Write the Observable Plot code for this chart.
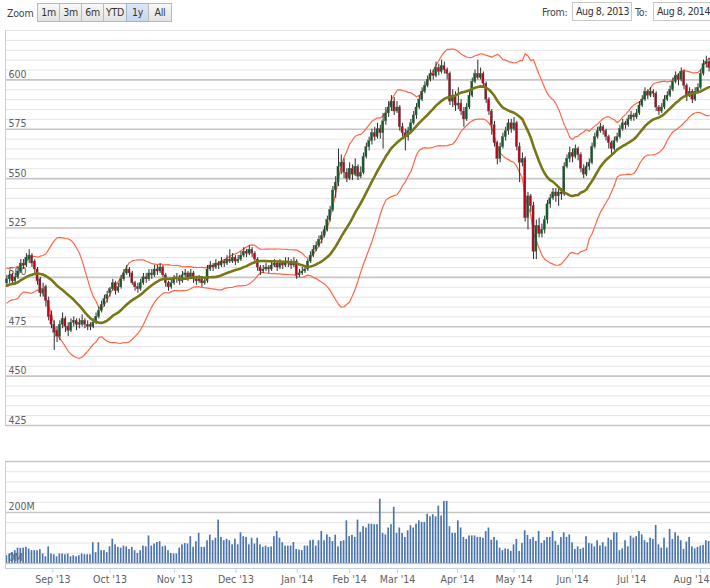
<!DOCTYPE html>
<html>
<head>
<meta charset="utf-8">
<script src="https://cdn.jsdelivr.net/npm/d3@7"></script>
<script src="https://cdn.jsdelivr.net/npm/@observablehq/plot@0.6"></script>
<style>
  html, body { margin: 0; padding: 0; background: #fff; }
  #wrap { position: relative; width: 710px; height: 588px; overflow: hidden;
    font-family: "DejaVu Sans Condensed", "Liberation Sans", sans-serif; }
  #price, #vol { position: absolute; left: 0; }
  #price { top: 0; }
  #vol { top: 440px; }
  .lbl { position: absolute; font-size: 10.5px; color: #444; line-height: 13px; letter-spacing: -0.2px; }
  .btn { position: absolute; top: 3px; height: 19px; line-height: 17px; font-size: 10.5px; color: #333;
    text-align: center; box-sizing: border-box; border: 1px solid #b9b9b9; letter-spacing: -0.3px;
    background: linear-gradient(#f8f8f8, #e2e2e2); }
  .btn.sel { background: linear-gradient(#dce7f5, #c7d7ee); border-color: #9fb3cf; }
  .box { position: absolute; top: 2px; height: 19px; line-height: 17px; font-size: 10.5px; color: #333;
    box-sizing: border-box; border: 1px solid #c8c8c8; padding-left: 3px; background: #fff; white-space: nowrap;
    letter-spacing: -0.4px; overflow: hidden; }
</style>
</head>
<body>
<div id="wrap">
  <div id="price"></div>
  <div id="vol"></div>
  <div class="lbl" style="left:7px;top:7px">Zoom</div>
  <div class="btn" style="left:37px;width:23px">1m</div>
  <div class="btn" style="left:59px;width:23px">3m</div>
  <div class="btn" style="left:81px;width:23px">6m</div>
  <div class="btn" style="left:103px;width:24px">YTD</div>
  <div class="btn sel" style="left:126px;width:23px">1y</div>
  <div class="btn" style="left:148px;width:24px">All</div>
  <div class="lbl" style="left:542px;top:6px">From:</div>
  <div class="box" style="left:572px;width:60px">Aug 8, 2013</div>
  <div class="lbl" style="left:635px;top:6px">To:</div>
  <div class="box" style="left:653px;width:60px">Aug 8, 2014</div>
</div>
<script>
// ---- Data: daily candles [open, high, low, close], one array per month ----
const aug13 = [[497,501,495,499],[499,503,497,501],[501,502,496,498],[498,502,496,500],[500,505,499,503],[503,509,502,507],[507,509,504,506],[506,512,505,510],[509,514,507,511],[511,512,505,507],[508,509,502,504],[504,505,496,498],[499,500,490,492],[492,497,490,494],[495,496,485,488],[488,490,478,480],[481,483,474,476]];
const sep13 = [[476,478,463,472],[473,475,467,470],[470,478,468,476],[476,482,474,479],[479,480,472,475],[475,477,470,473],[473,479,472,477],[477,480,475,478],[478,479,473,476],[476,479,474,477],[476,481,475,478],[478,479,474,476],[476,478,473,475],[476,477,473,475],[475,479,474,477],[477,482,476,480],[480,485,479,483],[483,488,482,486],[486,491,485,489],[489,493,487,491]];
const oct13 = [[492,495,490,494],[494,499,493,497],[497,498,491,493],[493,497,492,495],[495,501,494,499],[499,504,498,502],[502,506,501,504],[504,505,500,502],[502,503,496,497],[497,498,493,495],[495,497,492,494],[494,499,493,497],[497,502,496,500],[500,502,497,499],[499,504,498,502],[502,504,499,501],[501,506,500,504],[504,506,501,503],[503,507,502,505],[505,506,500,501],[501,502,495,497],[497,498,493,495],[495,499,494,497]];
const nov13 = [[497,501,496,499],[499,502,497,500],[500,501,496,498],[498,503,497,501],[501,504,500,502],[502,503,498,500],[500,504,499,502],[502,503,497,499],[499,500,496,498],[498,501,497,499],[499,500,495,497],[497,500,496,498],[498,506,497,504],[504,508,503,506],[506,507,503,505],[505,509,504,507],[507,508,504,506],[506,510,505,508],[508,509,505,507],[507,511,506,509]];
const dec13 = [[509,514,507,508],[508,512,507,510],[510,511,506,508],[508,511,507,509],[509,513,508,511],[511,515,510,513],[513,514,510,512],[512,516,511,514],[514,515,510,512],[512,513,507,509],[509,510,503,505],[505,506,501,503],[503,506,502,504],[504,507,503,505],[505,506,502,504],[504,508,503,506],[506,509,505,507],[507,508,503,505],[505,509,504,507],[507,508,504,506],[506,510,505,508]];
const jan14 = [[508,510,505,507],[507,509,504,506],[506,510,505,508],[508,509,499,501],[501,504,500,502],[502,505,501,503],[503,506,502,504],[504,509,503,508],[508,513,507,511],[511,516,510,514],[514,518,513,516],[516,521,515,519],[519,523,517,521],[521,526,520,524],[524,531,523,529],[529,536,528,534],[534,546,533,544],[544,551,540,548],[548,565,546,556],[556,562,552,558],[558,560,550,553]];
const feb14 = [[553,555,548,550],[550,558,549,555],[555,557,549,552],[552,560,551,556],[556,557,549,551],[551,556,550,553],[553,563,552,561],[561,568,560,566],[566,571,564,569],[569,575,567,573],[573,576,569,571],[571,578,570,575],[575,577,570,573],[573,583,565,579],[579,586,577,583],[583,589,581,586],[586,592,584,589],[589,591,582,584],[584,589,583,586]];
const mar14 = [[586,587,574,576],[576,578,571,573],[573,575,564,571],[571,576,569,574],[574,580,573,578],[578,584,577,582],[582,588,580,586],[586,592,585,590],[590,596,589,594],[594,599,593,597],[597,602,596,600],[600,605,599,603],[603,605,600,602],[602,609,601,606],[606,608,602,604],[604,610,603,607],[607,609,603,605],[605,606,600,603],[603,604,587,589],[589,595,586,592],[592,594,584,587]];
const apr14 = [[587,596,585,588],[588,590,582,584],[584,586,576,580],[580,588,579,586],[586,594,585,592],[592,601,591,599],[599,605,598,603],[603,610,600,601],[601,606,600,603],[603,604,596,598],[598,599,588,590],[590,591,582,584],[584,585,572,577],[577,579,566,568],[568,569,557,560],[560,568,558,566],[566,573,565,571],[571,576,569,574],[574,580,572,578],[578,580,573,575],[575,581,574,578]];
const may14 = [[578,579,564,566],[566,568,548,558],[558,563,556,560],[560,561,528,530],[530,543,524,541],[541,542,533,536],[536,538,509,513],[513,529,509,526],[526,530,520,522],[522,527,520,524],[524,531,522,529],[529,539,527,537],[537,542,535,540],[540,545,539,543],[543,545,538,541],[541,545,536,543],[543,545,539,542],[542,558,541,556],[556,562,555,560],[560,566,558,563],[563,565,558,561]];
const jun14 = [[561,567,560,565],[565,566,559,562],[562,563,553,555],[555,557,550,552],[552,558,551,556],[556,560,554,558],[558,568,557,566],[566,573,565,571],[571,576,570,574],[574,578,573,576],[576,577,572,574],[574,575,569,571],[571,572,565,568],[568,569,562,565],[565,571,564,569],[569,573,568,571],[571,577,570,575],[575,580,574,578],[578,579,575,577],[577,582,576,580],[580,584,579,582]];
const jul14 = [[582,583,579,581],[581,585,580,583],[583,589,582,587],[587,592,586,590],[590,596,589,594],[594,595,590,592],[592,596,591,594],[594,595,591,593],[593,594,584,586],[586,587,582,584],[584,588,583,586],[586,592,585,590],[590,594,589,592],[592,597,591,595],[595,601,594,599],[599,604,598,602],[602,603,597,600],[600,606,599,604],[604,605,595,597],[597,598,589,592],[592,596,591,594],[594,595,588,590]];
const aug14 = [[590,596,589,594],[594,598,593,596],[596,605,595,603],[603,610,602,608],[608,612,606,609],[609,611,604,606]];

// closes of the 19 sessions before the visible range (needed by the 20-day indicators)
const earlierCloses = [488,492,495,491,486,490,494,497,499,496,493,497,500,502,499,497,500,501,499];

// ---- Volume (millions), one array per month ----
const volAug13 = [30,37,43,50,60,59,60,63,56,50,50,50,54,37,26,65,37];
const volSep13 = [34,26,37,37,34,37,26,30,26,30,37,34,34,34,81,42,81,50,50,42];
const volOct13 = [65,95,73,63,60,68,65,55,63,50,39,50,68,65,108,68,76,82,85,65,68,50,39];
const volNov13 = [37,37,60,73,78,76,105,63,85,118,63,63,89,111,89,99,170,102,89,95];
const volDec13 = [89,73,95,73,120,105,102,73,99,76,99,73,63,68,63,65,105,125,99,81,68];
const volJan14 = [68,68,82,55,52,50,68,68,89,91,68,89,125,89,112,102,86,111,65,86,89];
const volFeb14 = [167,105,110,102,170,122,144,139,154,154,152,152,252,118,112,139,152,220,118];
const volMar14 = [139,118,102,128,148,139,154,167,161,161,193,183,191,183,225,186,243,243,144,118,118];
const volApr14 = [167,139,102,94,108,108,108,102,102,99,125,139,91,102,89,60,50,57,55,47,73];
const volMay14 = [94,47,78,128,110,94,102,86,125,78,89,102,102,125,86,71,102,120,102,112,81];
const volJun14 = [55,65,55,60,105,78,76,65,89,69,81,65,99,91,120,120,50,57,89,65,107];
const volJul14 = [99,105,125,112,89,81,99,94,149,73,60,99,60,133,94,120,107,89,55,84,102,65];
const volAug14 = [57,63,68,71,89,86];

// ---- Axis ticks: month starts, in session-index units, and their labels ----
const monthTicks = [16.5, 37, 60.2, 82.2, 104.2, 123, 140.2, 161.7, 182, 203, 224.2, 248.9];
const monthLabels = ["Sep '13","Oct '13","Nov '13","Dec '13","Jan '14","Feb '14","Mar '14","Apr '14","May '14","Jun '14","Jul '14","Aug '14"];
const priceMajor = [425,450,475,500,525,550,575,600];
const priceLabels = [425,450,475,500,525,550,575,600];
const volMajor = [0,200,400];
const volLabels = [0,200];

// ---- Build tables ----
const priceMonths = [aug13,sep13,oct13,nov13,dec13,jan14,feb14,mar14,apr14,may14,jun14,jul14,aug14];
const volMonths = [volAug13,volSep13,volOct13,volNov13,volDec13,volJan14,volFeb14,volMar14,volApr14,volMay14,volJun14,volJul14,volAug14];
const candles = priceMonths.flat().map((r, i) => ({i, o: r[0], h: r[1], l: r[2], c: r[3]}));
const volume = volMonths.flat().map((v, i) => ({i, v}));
const N = candles.length;
const lastK = monthTicks.length - 1;
// last label is kept inside the frame (end-anchored), the others are centred on their tick
const tickFmt = d => { const k = monthTicks.indexOf(d); return k === lastK ? "" : monthLabels[k]; };

// 20-day SMA and Bollinger bands (2 sd)
const allC = earlierCloses.concat(candles.map(d => d.c));
const P = earlierCloses.length + 1;
const ind = candles.map((d, i) => {
  const w = allC.slice(i, i + P);
  const m = d3.mean(w);
  const sd = Math.sqrt(d3.mean(w, x => (x - m) ** 2));
  return {i, sma: m, up: m + 2 * sd, lo: m - 2 * sd};
});

const minor = (lo, hi, step, majors) => d3.range(lo, hi + 1e-9, step).filter(v => !majors.includes(v));
const font = "font-family:'DejaVu Sans Condensed','Liberation Sans',sans-serif;font-size:10px;background:transparent;";
const UP = "#0c5f22", DOWN = "#c3001a";

const price = Plot.plot({
  width: 710, height: 430,
  marginTop: 30, marginBottom: 5, marginLeft: 5, marginRight: 0,
  style: font,
  x: {domain: [-0.5, N - 0.5], axis: null},
  y: {domain: [425, 625], axis: null},
  marks: [
    Plot.ruleY(minor(425, 625, 5, priceMajor), {stroke: "#e4e4e4", strokeWidth: 1}),
    Plot.ruleY(priceMajor, {stroke: "#c6c6c6", strokeWidth: 1.6}),
    Plot.text(priceLabels, {y: d => d, text: d => String(d), frameAnchor: "left", dx: 3, dy: -2,
      textAnchor: "start", lineAnchor: "bottom", fill: "#606060", fontSize: 10.5}),
    Plot.ruleX([-0.5], {stroke: "#c0d0e0", strokeWidth: 1}),
    Plot.line(ind, {x: "i", y: "up", stroke: "#ff6647", strokeWidth: 1.2}),
    Plot.line(ind, {x: "i", y: "lo", stroke: "#ff6647", strokeWidth: 1.2}),
    Plot.ruleX(candles, {x: "i", y1: "l", y2: "h", stroke: "#2e2e2e", strokeWidth: 1}),
    Plot.rect(candles, {x1: d => d.i - 0.38, x2: d => d.i + 0.38, y1: "o", y2: "c",
      fill: d => d.c >= d.o ? UP : DOWN, stroke: "#555", strokeWidth: 0.4}),
    Plot.line(ind, {x: "i", y: "sma", stroke: "#777718", strokeWidth: 2.6})
  ]
});
document.getElementById("price").appendChild(price);

const vol = Plot.plot({
  width: 710, height: 148,
  marginTop: 21, marginBottom: 20, marginLeft: 5, marginRight: 0,
  style: font,
  x: {domain: [-0.5, N - 0.5]},
  y: {domain: [-20, 400], axis: null},
  marks: [
    Plot.ruleY(minor(0, 400, 40, volMajor), {stroke: "#e4e4e4", strokeWidth: 1}),
    Plot.ruleY(volMajor, {stroke: "#c6c6c6", strokeWidth: 1.6}),
    Plot.rect(volume, {x1: d => d.i - 0.3, x2: d => d.i + 0.3, y1: 0, y2: "v", fill: "#4a74ab"}),
    Plot.text(volLabels, {y: d => d, text: d => d + "M", frameAnchor: "left", dx: 3, dy: -2,
      textAnchor: "start", lineAnchor: "bottom", fill: "#606060", fontSize: 10.5}),
    Plot.ruleX([-0.5], {stroke: "#c0d0e0", strokeWidth: 1}),
    Plot.ruleY([-20], {stroke: "#c0d0e0", strokeWidth: 1}),
    Plot.axisX({ticks: monthTicks, tickFormat: tickFmt, tickSize: 5, tickPadding: 2,
      stroke: "#c0d0e0", color: "#606060", fontSize: 10.5, label: null}),
    Plot.text([monthLabels[lastK]], {frameAnchor: "bottom-right", dx: -1, dy: 7,
      textAnchor: "end", lineAnchor: "top", fill: "#606060", fontSize: 10.5})
  ]
});
document.getElementById("vol").appendChild(vol);
</script>
</body>
</html>
